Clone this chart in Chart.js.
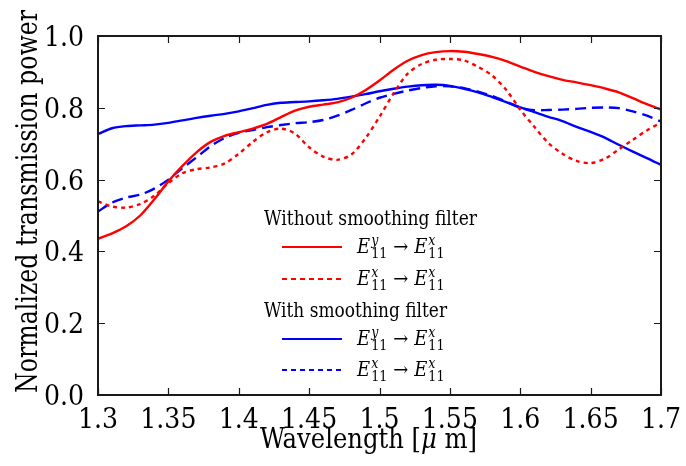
<!DOCTYPE html>
<html><head><meta charset="utf-8">
<script src="https://cdn.jsdelivr.net/npm/chart.js@4.4.0/dist/chart.umd.min.js"></script>
<style>html,body{margin:0;padding:0;background:#fff}#wrap{width:686px;height:466px}</style>
</head><body><div id="wrap"><canvas id="c" width="686" height="466"></canvas></div>
<script>
// Wavelength samples [µm]
const wavelength = [1.30,1.31,1.32,1.33,1.34,1.35,1.36,1.37,1.38,1.39,1.40,1.41,1.42,1.43,1.44,1.45,1.46,1.47,1.48,1.49,1.50,1.51,1.52,1.53,1.54,1.55,1.56,1.57,1.58,1.59,1.60,1.61,1.62,1.63,1.64,1.65,1.66,1.67,1.68,1.69,1.70];
// Without smoothing filter
const noFilterYtoX = [0.435,0.450,0.470,0.500,0.545,0.595,0.638,0.676,0.705,0.722,0.732,0.742,0.755,0.774,0.792,0.803,0.809,0.815,0.828,0.849,0.876,0.906,0.931,0.947,0.955,0.958,0.956,0.950,0.942,0.930,0.915,0.900,0.888,0.878,0.871,0.863,0.854,0.843,0.827,0.810,0.795];
const noFilterXtoX = [0.539,0.525,0.522,0.532,0.555,0.590,0.618,0.629,0.634,0.645,0.672,0.705,0.732,0.742,0.728,0.690,0.664,0.655,0.670,0.715,0.775,0.840,0.895,0.922,0.934,0.936,0.932,0.914,0.890,0.850,0.795,0.747,0.702,0.672,0.652,0.646,0.658,0.684,0.711,0.737,0.759];
// With smoothing filter
const filterYtoX = [0.727,0.743,0.749,0.751,0.753,0.758,0.765,0.772,0.778,0.783,0.790,0.799,0.808,0.814,0.816,0.818,0.821,0.825,0.831,0.838,0.846,0.853,0.859,0.863,0.864,0.861,0.853,0.843,0.830,0.816,0.801,0.788,0.775,0.763,0.747,0.733,0.717,0.697,0.678,0.660,0.641];
const filterXtoX = [0.511,0.536,0.550,0.558,0.575,0.600,0.632,0.662,0.693,0.716,0.730,0.738,0.746,0.752,0.757,0.760,0.766,0.778,0.794,0.812,0.828,0.839,0.848,0.855,0.860,0.860,0.855,0.845,0.833,0.817,0.800,0.793,0.794,0.795,0.797,0.800,0.801,0.799,0.790,0.778,0.762];
const xTickLabels = ['1.3','1.35','1.4','1.45','1.5','1.55','1.6','1.65','1.7'];
const yTickLabels = ['0.0','0.2','0.4','0.6','0.8','1.0'];

const SERIF = "'DejaVu Serif Condensed','DejaVu Serif',serif";
const pts = arr => arr.map((v,i)=>({x:wavelength[i], y:v}));

const legendGroups = [
  {title:'Without smoothing filter', items:[{ds:0, sup:'y'},{ds:1, sup:'x'}]},
  {title:'With smoothing filter', items:[{ds:2, sup:'y'},{ds:3, sup:'x'}]}
];

function fitText(ctx, text, x, y, width){
  const w = ctx.measureText(text).width;
  const f = width / w;
  ctx.save(); ctx.translate(x, y); ctx.scale(f, 1); ctx.fillText(text, 0, 0); ctx.restore();
}

function drawMath(ctx, x, y, sup, size){
  const big = size+'px '+SERIF, bigI = 'italic '+size+'px '+SERIF;
  const sm = Math.round(size*0.7), smI = 'italic '+sm+'px '+SERIF, smR = sm+'px '+SERIF;
  const part = (S)=>{
    ctx.font = bigI; ctx.fillText('E', x, y); x += ctx.measureText('E').width + 1;
    ctx.font = smI; ctx.fillText(S, x, y - size*0.42);
    const w1 = ctx.measureText(S).width;
    ctx.font = smR; ctx.fillText('11', x, y + size*0.25);
    const w2 = ctx.measureText('11').width;
    x += Math.max(w1,w2);
  };
  part(sup);
  ctx.font = big; x += 6; ctx.fillText('\u2192', x, y); x += ctx.measureText('\u2192').width + 6;
  part('x');
}

const framePlugin = {
  id:'frame',
  afterDraw(chart){
    const {ctx, chartArea:a, scales} = chart;
    ctx.save();
    ctx.strokeStyle = '#1a1a1a'; ctx.lineWidth = 2;
    ctx.strokeRect(a.left, a.top, a.right-a.left, a.bottom-a.top);
    ctx.lineWidth = 1.2;
    ctx.fillStyle = '#000';
    ctx.font = '28px '+SERIF;
    scales.x.ticks.forEach((t,i)=>{
      const p = scales.x.getPixelForValue(t.value), px = Math.round(p)+0.5;
      ctx.beginPath(); ctx.moveTo(px,a.bottom); ctx.lineTo(px,a.bottom-7);
      ctx.moveTo(px,a.top); ctx.lineTo(px,a.top+7); ctx.stroke();
      ctx.textAlign='center'; ctx.textBaseline='alphabetic';
      ctx.fillText(xTickLabels[i], p, 428);
    });
    scales.y.ticks.forEach((t,i)=>{
      const p = scales.y.getPixelForValue(t.value), py = Math.round(p)+0.5;
      ctx.beginPath(); ctx.moveTo(a.left,py); ctx.lineTo(a.left+7,py);
      ctx.moveTo(a.right,py); ctx.lineTo(a.right-7,py); ctx.stroke();
      ctx.textAlign='right'; ctx.textBaseline='alphabetic';
      ctx.fillText(yTickLabels[i], 84, p + 10);
    });
    // axis titles
    ctx.textBaseline = 'alphabetic'; ctx.textAlign='left';
    const t1 = 'Wavelength [', t3 = ' m]';
    ctx.font = '28px '+SERIF; const w1 = ctx.measureText(t1).width, w3 = ctx.measureText(t3).width;
    ctx.font = 'italic 28px '+SERIF; const w2 = ctx.measureText('\u03bc').width;
    const tot = w1+w2+w3, f = 217/tot;
    ctx.save(); ctx.translate(260, 448); ctx.scale(f,1);
    ctx.font = '28px '+SERIF; ctx.fillText(t1, 0, 0);
    ctx.font = 'italic 28px '+SERIF; ctx.fillText('\u03bc', w1, 0);
    ctx.font = '28px '+SERIF; ctx.fillText(t3, w1+w2, 0);
    ctx.restore();
    ctx.save(); ctx.translate(37, 393); ctx.rotate(-Math.PI/2);
    ctx.font = '29px '+SERIF;
    fitText(ctx, 'Normalized transmission power', 0, 0, 383);
    ctx.restore();
    // legend
    const ds = chart.data.datasets;
    const rows = [225, 253, 285, 316.7, 345, 376];
    let r = 0;
    legendGroups.forEach(g=>{
      ctx.font = '20px '+SERIF; ctx.textAlign='left'; ctx.fillStyle='#000';
      fitText(ctx, g.title, 264, rows[r++], g.title.length>22 ? 213 : 183);
      g.items.forEach(it=>{
        const d = ds[it.ds], y = rows[r++];
        ctx.strokeStyle = d.borderColor; ctx.lineWidth = 2.2;
        ctx.setLineDash(it.ds===0||it.ds===2 ? [] : [5,4]);
        ctx.beginPath(); ctx.moveTo(282, y-6); ctx.lineTo(342, y-6); ctx.stroke();
        ctx.setLineDash([]);
        ctx.fillStyle = '#000';
        drawMath(ctx, 357, y, it.sup, 20);
      });
    });
    ctx.restore();
  }
};

new Chart(document.getElementById('c'), {
  type:'line',
  data:{ datasets:[
    {label:'noFilterYtoX', data:pts(noFilterYtoX), borderColor:'#ff0000', borderWidth:2.4, pointRadius:0, tension:0.3, fill:false},
    {label:'noFilterXtoX', data:pts(noFilterXtoX), borderColor:'#ff0000', borderWidth:2.4, borderDash:[4,4], pointRadius:0, tension:0.3, fill:false},
    {label:'filterYtoX', data:pts(filterYtoX), borderColor:'#0000ff', borderWidth:2.4, pointRadius:0, tension:0.3, fill:false},
    {label:'filterXtoX', data:pts(filterXtoX), borderColor:'#0000ff', borderWidth:2.4, borderDash:[11,6], pointRadius:0, tension:0.3, fill:false}
  ]},
  options:{
    responsive:false, animation:false, devicePixelRatio:1,
    layout:{padding:{top:36,right:25,left:0,bottom:0}},
    plugins:{legend:{display:false}, tooltip:{enabled:false}},
    scales:{
      x:{type:'linear', min:1.3, max:1.7,
         ticks:{stepSize:0.05, display:false, autoSkip:false},
         grid:{display:false}, border:{display:false},
         afterFit:s=>{s.height=71;}},
      y:{min:0, max:1,
         ticks:{stepSize:0.2, display:false},
         grid:{display:false}, border:{display:false},
         afterFit:s=>{s.width=98;}}
    }
  },
  plugins:[framePlugin]
});
</script></body></html>
